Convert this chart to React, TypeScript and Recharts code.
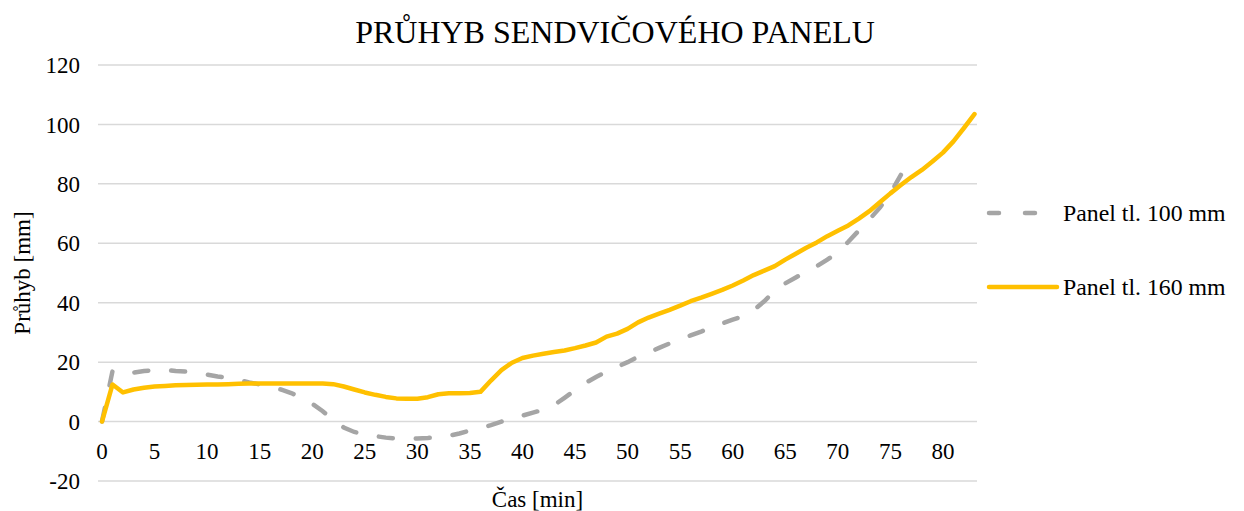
import { LineChart, Line, XAxis, YAxis, CartesianGrid } from "recharts";

// Deflection readings, one per minute (t = 0 .. 83)
const panel100 = [
  0, 17, 16, 16.5, 17, 17.3, 17.5, 17, 16.8, 16.3,
  15.8, 15.2, 14.7, 14, 13.2, 12.5, 11.7, 10.8, 9.6, 8,
  6, 3.5, 0.5, -2, -3.5, -4.3, -4.9, -5.4, -5.7, -5.8,
  -5.7, -5.5, -5.2, -4.8, -4, -3, -2.2, -1.2, 0, 1,
  2, 3, 4, 5.5, 8, 10.5, 13, 15, 16.8, 18.4,
  20, 21.8, 23.2, 24.8, 26.3, 27.6, 29, 30.3, 31.7, 33,
  34.3, 35.5, 37.5, 40.5, 44, 46.5, 48.5, 50.5, 52.3, 54.5,
  57, 60.5, 64.3, 68, 72, 76.8, 83,
];

const panel160 = [
  0, 12.5, 9.8, 10.8, 11.4, 11.8, 12, 12.2, 12.3, 12.4,
  12.5, 12.5, 12.6, 12.7, 12.8, 12.8, 12.8, 12.8, 12.8, 12.8,
  12.8, 12.8, 12.6, 11.8, 10.8, 9.8, 9, 8.3, 7.8, 7.7,
  7.7, 8.2, 9.2, 9.5, 9.5, 9.6, 10, 13.8, 17.3, 19.8,
  21.4, 22.2, 22.8, 23.4, 23.9, 24.7, 25.6, 26.6, 28.6, 29.6,
  31.2, 33.4, 35, 36.3, 37.6, 39, 40.5, 41.7, 43, 44.3,
  45.8, 47.5, 49.3, 50.8, 52.3, 54.5, 56.5, 58.5, 60.3, 62.4,
  64.2, 66, 68.3, 70.8, 73.8, 76.8, 79.6, 82.3, 84.7, 87.5,
  90.5, 94.3, 98.8, 103.5,
];

const xTicks = [0, 5, 10, 15, 20, 25, 30, 35, 40, 45, 50, 55, 60, 65, 70, 75, 80];
const yTicks = [-20, 0, 20, 40, 60, 80, 100, 120];

const seriesNames = ["Panel tl. 100 mm", "Panel tl. 160 mm"];

const data = panel160.map((v, i) => ({
  minute: i,
  p100: panel100[i],
  p160: v,
}));

const FONT = '"Liberation Serif", "Times New Roman", serif';
const GRAY = "#A5A5A5";
const GOLD = "#FFC000";

// x labels sit just under the 0 line, like Excel does when the axis crosses at 0
function XTick(props: any) {
  const { x, y, payload } = props;
  return (
    <text x={x} y={y - 30} dy="0.35em" textAnchor="middle" fill="#000" fontSize={23} fontFamily={FONT}>
      {payload.value}
    </text>
  );
}

function YLabel(props: any) {
  const vb = props.viewBox;
  const cy = vb.y + vb.height / 2;
  return (
    <text
      x={14}
      y={cy}
      transform={`rotate(-90, 14, ${cy})`}
      textAnchor="middle"
      dominantBaseline="central"
      fill="#000"
      fontSize={23}
      fontFamily={FONT}
    >
      Průhyb [mm]
    </text>
  );
}

export default function App() {
  return (
    <div style={{ position: "relative", width: 1228, height: 503, fontFamily: FONT }}>
      <div
        style={{
          position: "absolute",
          top: 8,
          left: 607,
          transform: "translateX(-50%)",
          fontSize: 32,
          lineHeight: "32px",
          whiteSpace: "nowrap",
          color: "#000",
        }}
      >
        PRŮHYB SENDVIČOVÉHO PANELU
      </div>

      <LineChart width={1228} height={503} data={data} margin={{ top: 57, right: 259, bottom: 0, left: 0 }}>
        <CartesianGrid vertical={false} stroke="#D9D9D9" strokeWidth={1.5} />
        <XAxis
          dataKey="minute"
          type="number"
          domain={[-0.38, 83.24]}
          ticks={xTicks}
          interval={0}
          height={30}
          axisLine={false}
          tickLine={false}
          tickSize={0}
          tickMargin={0}
          tick={<XTick />}
          label={{
            value: "Čas [min]",
            position: "insideBottom",
            offset: 4,
            fill: "#000",
            fontSize: 23,
            fontFamily: FONT,
          }}
        />
        <YAxis
          type="number"
          domain={[-20, 120]}
          ticks={yTicks}
          interval={0}
          width={90}
          axisLine={false}
          tickLine={false}
          tickSize={0}
          tickMargin={18}
          tick={{ fill: "#000", fontSize: 23, fontFamily: FONT }}
          label={<YLabel />}
        />
        <Line
          type="linear"
          dataKey="p100"
          name={seriesNames[0]}
          stroke={GRAY}
          strokeWidth={4.5}
          strokeDasharray="14 23"
          strokeLinecap="round"
          dot={false}
          activeDot={false}
          connectNulls={false}
          isAnimationActive={false}
        />
        <Line
          type="linear"
          dataKey="p160"
          name={seriesNames[1]}
          stroke={GOLD}
          strokeWidth={4.5}
          strokeLinecap="round"
          strokeLinejoin="round"
          dot={false}
          activeDot={false}
          isAnimationActive={false}
        />
      </LineChart>

      {/* Legend, drawn outside recharts so it doesn't eat plot width */}
      <svg width={1228} height={503} style={{ position: "absolute", top: 0, left: 0, pointerEvents: "none" }}>
        <line x1={981} y1={205} x2={1037} y2={205} stroke={GRAY} strokeWidth={4.5} strokeDasharray="10 26" strokeLinecap="round" />
        <text x={1055} y={205} dy="0.33em" fontSize={23.8} fontFamily={FONT} fill="#000">
          {seriesNames[0]}
        </text>
        <line x1={981} y1={279} x2={1049} y2={279} stroke={GOLD} strokeWidth={4.5} strokeLinecap="round" />
        <text x={1055} y={279} dy="0.33em" fontSize={23.8} fontFamily={FONT} fill="#000">
          {seriesNames[1]}
        </text>
      </svg>
    </div>
  );
}
